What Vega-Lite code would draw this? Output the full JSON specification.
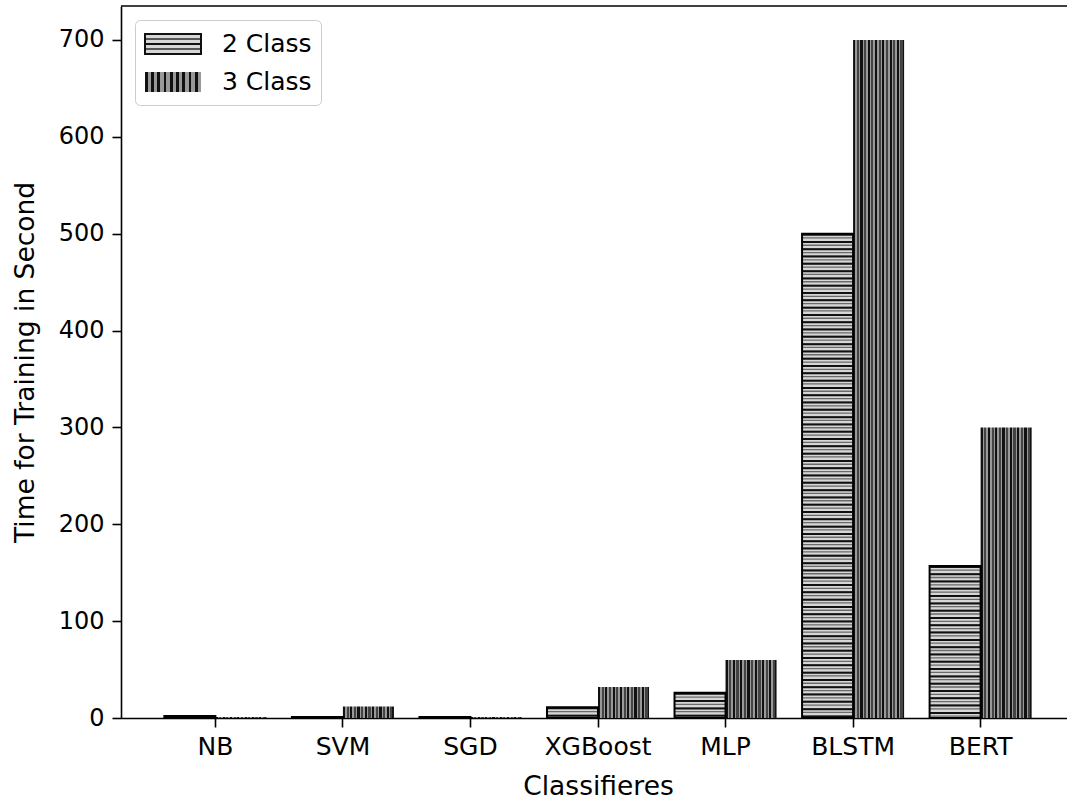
{
  "$schema": "https://vega.github.io/schema/vega-lite/v6.json",
  "autosize": {"type": "none"},
  "padding": {"left": 121, "top": 6, "right": 0, "bottom": 83},
  "width": 946,
  "height": 712,
  "background": "white",
  "config": {
    "font": "DejaVu Sans",
    "view": {"stroke": null},
    "axis": {
      "labelFont": "DejaVu Sans",
      "labelFontSize": 24,
      "labelColor": "#000000",
      "titleFont": "DejaVu Sans",
      "titleFontSize": 26.5,
      "titleFontWeight": "normal",
      "titleColor": "#000000",
      "domainColor": "#000000",
      "domainWidth": 1.6,
      "tickColor": "#000000",
      "tickWidth": 1.6,
      "tickSize": 9,
      "labelPadding": 8,
      "grid": false
    }
  },
  "data": {
    "values": [
      {"Model": "NB", "Class": "2 Class", "Time": 2},
      {"Model": "NB", "Class": "3 Class", "Time": 1},
      {"Model": "SVM", "Class": "2 Class", "Time": 1},
      {"Model": "SVM", "Class": "3 Class", "Time": 12},
      {"Model": "SGD", "Class": "2 Class", "Time": 1},
      {"Model": "SGD", "Class": "3 Class", "Time": 1},
      {"Model": "XGBoost", "Class": "2 Class", "Time": 11},
      {"Model": "XGBoost", "Class": "3 Class", "Time": 32},
      {"Model": "MLP", "Class": "2 Class", "Time": 26},
      {"Model": "MLP", "Class": "3 Class", "Time": 60},
      {"Model": "BLSTM", "Class": "2 Class", "Time": 500},
      {"Model": "BLSTM", "Class": "3 Class", "Time": 700},
      {"Model": "BERT", "Class": "2 Class", "Time": 157},
      {"Model": "BERT", "Class": "3 Class", "Time": 300}
    ]
  },
  "layer": [
    {
      "encoding": {
        "x": {
          "field": "Model",
          "type": "nominal",
          "sort": ["NB", "SVM", "SGD", "XGBoost", "MLP", "BLSTM", "BERT"],
          "scale": {"range": [0, 954], "paddingInner": 0.2, "paddingOuter": 0.34},
          "axis": {"labelAngle": 0, "titlePadding": 14, "labelFontSize": 25, "labelPadding": 7},
          "title": "Classifieres"
        },
        "xOffset": {"field": "Class", "type": "nominal", "sort": ["2 Class", "3 Class"]},
        "y": {
          "field": "Time",
          "type": "quantitative",
          "scale": {"domain": [0, 735], "nice": false, "zero": true},
          "axis": {"values": [0, 100, 200, 300, 400, 500, 600, 700], "titlePadding": 19, "labelPadding": 8},
          "title": "Time for Training in Second"
        }
      },
      "layer": [
        {
          "mark": {"type": "bar", "strokeWidth": 0},
          "encoding": {
            "fill": {
              "condition": {"test": "datum.Class === '2 Class'", "value": "#d6d6d6"},
              "value": {
                "gradient": "linear", "x1": 0, "y1": 0, "x2": 1, "y2": 0,
                "stops": [
                  {"offset": 0, "color": "#111111"}, {"offset": 0.0429, "color": "#111111"},
                  {"offset": 0.0429, "color": "#999999"}, {"offset": 0.0714, "color": "#999999"},
                  {"offset": 0.0714, "color": "#444444"}, {"offset": 0.1143, "color": "#444444"},
                  {"offset": 0.1143, "color": "#999999"}, {"offset": 0.1429, "color": "#999999"},
                  {"offset": 0.1429, "color": "#111111"}, {"offset": 0.1857, "color": "#111111"},
                  {"offset": 0.1857, "color": "#999999"}, {"offset": 0.2143, "color": "#999999"},
                  {"offset": 0.2143, "color": "#444444"}, {"offset": 0.2571, "color": "#444444"},
                  {"offset": 0.2571, "color": "#999999"}, {"offset": 0.2857, "color": "#999999"},
                  {"offset": 0.2857, "color": "#111111"}, {"offset": 0.3286, "color": "#111111"},
                  {"offset": 0.3286, "color": "#999999"}, {"offset": 0.3571, "color": "#999999"},
                  {"offset": 0.3571, "color": "#444444"}, {"offset": 0.4, "color": "#444444"},
                  {"offset": 0.4, "color": "#999999"}, {"offset": 0.4286, "color": "#999999"},
                  {"offset": 0.4286, "color": "#111111"}, {"offset": 0.4714, "color": "#111111"},
                  {"offset": 0.4714, "color": "#999999"}, {"offset": 0.5, "color": "#999999"},
                  {"offset": 0.5, "color": "#444444"}, {"offset": 0.5429, "color": "#444444"},
                  {"offset": 0.5429, "color": "#999999"}, {"offset": 0.5714, "color": "#999999"},
                  {"offset": 0.5714, "color": "#111111"}, {"offset": 0.6143, "color": "#111111"},
                  {"offset": 0.6143, "color": "#999999"}, {"offset": 0.6429, "color": "#999999"},
                  {"offset": 0.6429, "color": "#444444"}, {"offset": 0.6857, "color": "#444444"},
                  {"offset": 0.6857, "color": "#999999"}, {"offset": 0.7143, "color": "#999999"},
                  {"offset": 0.7143, "color": "#111111"}, {"offset": 0.7571, "color": "#111111"},
                  {"offset": 0.7571, "color": "#999999"}, {"offset": 0.7857, "color": "#999999"},
                  {"offset": 0.7857, "color": "#444444"}, {"offset": 0.8286, "color": "#444444"},
                  {"offset": 0.8286, "color": "#999999"}, {"offset": 0.8571, "color": "#999999"},
                  {"offset": 0.8571, "color": "#111111"}, {"offset": 0.9, "color": "#111111"},
                  {"offset": 0.9, "color": "#999999"}, {"offset": 0.9286, "color": "#999999"},
                  {"offset": 0.9286, "color": "#444444"}, {"offset": 0.9714, "color": "#444444"},
                  {"offset": 0.9714, "color": "#111111"}, {"offset": 1, "color": "#111111"}
                ]
              }
            }
          }
        },
        {
          "transform": [{"filter": "datum.Class === '2 Class'"}],
          "mark": {"type": "rule", "strokeWidth": 50, "color": "#6a6a6a", "strokeDash": [1.3, 2.35], "strokeCap": "butt"},
          "encoding": {"y2": {"datum": 0}}
        },
        {
          "transform": [{"filter": "datum.Class === '2 Class'"}],
          "mark": {"type": "rule", "strokeWidth": 50, "strokeDash": [2, 5.3], "strokeCap": "butt"},
          "encoding": {
            "y2": {"datum": 0},
            "color": {
              "field": "Class",
              "type": "nominal",
              "scale": {"domain": ["2 Class", "3 Class"], "range": ["#111111", "rgba(0,0,0,0)"]},
              "legend": {
                "title": null,
                "orient": "none",
                "legendX": 14,
                "legendY": 14,
                "padding": 9,
                "fillColor": "rgba(255,255,255,0.8)",
                "strokeColor": "#cccccc",
                "cornerRadius": 5,
                "labelFont": "DejaVu Sans",
                "labelFontSize": 25,
                "labelColor": "#000000",
                "labelOffset": 48,
                "rowPadding": 9,
                "symbolType": "M-1,-0.714H3V0.714H-1Z",
                "symbolSize": 784,
                "symbolStrokeWidth": 2,
                "symbolDash": [],
                "encode": {
                  "symbols": {
                    "update": {
                      "fill": [
                        {
                          "test": "datum.value === '2 Class'",
                          "value": {
                            "gradient": "linear", "x1": 0, "y1": 0, "x2": 0, "y2": 1,
                            "stops": [
                              {"offset": 0, "color": "#d6d6d6"}, {"offset": 0.2, "color": "#d6d6d6"},
                              {"offset": 0.2, "color": "#555555"}, {"offset": 0.28, "color": "#555555"},
                              {"offset": 0.28, "color": "#d6d6d6"}, {"offset": 0.46, "color": "#d6d6d6"},
                              {"offset": 0.46, "color": "#111111"}, {"offset": 0.55, "color": "#111111"},
                              {"offset": 0.55, "color": "#d6d6d6"}, {"offset": 0.72, "color": "#d6d6d6"},
                              {"offset": 0.72, "color": "#555555"}, {"offset": 0.8, "color": "#555555"},
                              {"offset": 0.8, "color": "#d6d6d6"}, {"offset": 1, "color": "#d6d6d6"}
                            ]
                          }
                        },
                        {
                          "value": {
                            "gradient": "linear", "x1": 0, "y1": 0, "x2": 1, "y2": 0,
                            "stops": [
                              {"offset": 0, "color": "#111111"}, {"offset": 0.05, "color": "#111111"},
                              {"offset": 0.05, "color": "#999999"}, {"offset": 0.1111, "color": "#999999"},
                              {"offset": 0.1111, "color": "#111111"}, {"offset": 0.1611, "color": "#111111"},
                              {"offset": 0.1611, "color": "#999999"}, {"offset": 0.2222, "color": "#999999"},
                              {"offset": 0.2222, "color": "#111111"}, {"offset": 0.2722, "color": "#111111"},
                              {"offset": 0.2722, "color": "#999999"}, {"offset": 0.3333, "color": "#999999"},
                              {"offset": 0.3333, "color": "#111111"}, {"offset": 0.3833, "color": "#111111"},
                              {"offset": 0.3833, "color": "#999999"}, {"offset": 0.4444, "color": "#999999"},
                              {"offset": 0.4444, "color": "#111111"}, {"offset": 0.4944, "color": "#111111"},
                              {"offset": 0.4944, "color": "#999999"}, {"offset": 0.5556, "color": "#999999"},
                              {"offset": 0.5556, "color": "#111111"}, {"offset": 0.6056, "color": "#111111"},
                              {"offset": 0.6056, "color": "#999999"}, {"offset": 0.6667, "color": "#999999"},
                              {"offset": 0.6667, "color": "#111111"}, {"offset": 0.7167, "color": "#111111"},
                              {"offset": 0.7167, "color": "#999999"}, {"offset": 0.7778, "color": "#999999"},
                              {"offset": 0.7778, "color": "#111111"}, {"offset": 0.8278, "color": "#111111"},
                              {"offset": 0.8278, "color": "#999999"}, {"offset": 0.8889, "color": "#999999"},
                              {"offset": 0.8889, "color": "#111111"}, {"offset": 0.9389, "color": "#111111"},
                              {"offset": 0.9389, "color": "#999999"}, {"offset": 1, "color": "#999999"}
                            ]
                          }
                        }
                      ],
                      "strokeWidth": {"value": 2},
                      "strokeDash": {"value": []},
                      "opacity": {"value": 1}
                    }
                  }
                }
              }
            }
          }
        },
        {
          "transform": [{"filter": "datum.Class === '2 Class'"}],
          "mark": {"type": "bar", "fill": "transparent", "fillOpacity": 0, "stroke": "#000000", "strokeWidth": 2},
          "encoding": {}
        }
      ]
    },
    {
      "data": {"values": [{"edge": "top"}]},
      "mark": {"type": "rule", "color": "#000000", "strokeWidth": 1.6},
      "encoding": {"y": {"datum": 735, "type": "quantitative"}}
    }
  ]
}
